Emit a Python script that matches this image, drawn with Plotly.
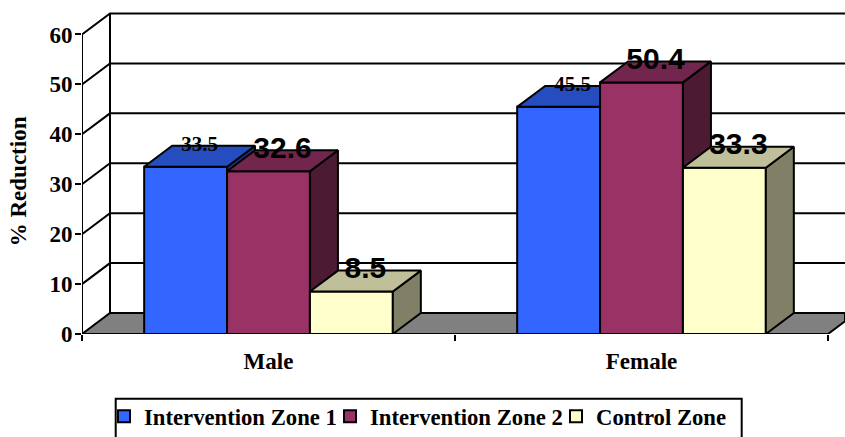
import plotly.graph_objects as go

categories = ["Male", "Female"]
series_names = ["Intervention Zone 1", "Intervention Zone 2", "Control Zone"]
zone1 = [33.5, 45.5]
zone2 = [32.6, 50.4]
control = [8.5, 33.3]
y_ticks = [0, 10, 20, 30, 40, 50, 60]

front_colors = ["#3366FF", "#993366", "#FFFFCC"]
top_colors = ["#264DBF", "#73264D", "#BFBF99"]
side_colors = ["#1A3380", "#4D1A33", "#808066"]

W, H = 845, 437
L, B, T = 82, 102.5, 11
PX_PER_CAT = 373.0
PX_PER_UNIT = 5.0
X_MAX = (W - L) / PX_PER_CAT
Y_MAX = (H - B - T) / PX_PER_UNIT
DX = 28 / PX_PER_CAT
DY = 21 / PX_PER_UNIT
BAR_W = 1 / 4.5
LW = 2
SERIF = "Liberation Serif"
SANS = "Liberation Sans"
PLOT_W, PLOT_H = W - L, H - B - T
ZERO_Y = H - B

fig = go.Figure()


def poly(xs, ys, color, axes=("x", "y")):
    fig.add_trace(go.Scatter(
        x=xs, y=ys, mode="lines", fill="toself", fillcolor=color,
        line=dict(color="black", width=LW), showlegend=False, hoverinfo="skip",
        cliponaxis=False, xaxis=axes[0], yaxis=axes[1]))


def line(xs, ys, axes=("x", "y")):
    fig.add_trace(go.Scatter(
        x=xs, y=ys, mode="lines", line=dict(color="black", width=LW),
        showlegend=False, hoverinfo="skip", cliponaxis=False,
        xaxis=axes[0], yaxis=axes[1]))


# floor, back wall and gridlines on the base axes
n_cat = len(categories)
poly([0, DX, X_MAX, X_MAX, n_cat, 0], [0, DY, DY, (X_MAX - n_cat) / DX * DY, 0, 0], "#808080")
for v in y_ticks[1:]:
    line([0, DX, X_MAX], [v, v + DY, v + DY])
line([DX, DX], [DY, 60 + DY])
line([0, 0], [0, 60])

# bars, one overlay per series so each hides the one before it
all_series = [zone1, zone2, control]
for s, values in enumerate(all_series):
    xa, ya = f"x{s + 2}", f"y{s + 2}"
    centers = [c + 0.5 + (s - 1) * BAR_W for c in range(n_cat)]
    fig.add_trace(go.Bar(
        x=centers, y=values, width=BAR_W, name=series_names[s], xaxis=xa, yaxis=ya,
        marker=dict(color=front_colors[s], line=dict(color="black", width=LW)),
        cliponaxis=False, hoverinfo="skip"))
    for xc, v in zip(centers, values):
        xl, xr = xc - BAR_W / 2, xc + BAR_W / 2
        poly([xr, xr + DX, xr + DX, xr, xr], [0, DY, v + DY, v, 0], side_colors[s], (xa, ya))
        poly([xl, xl + DX, xr + DX, xr, xl], [v, v + DY, v + DY, v, v], top_colors[s], (xa, ya))

# front axis line and data labels on the top layer
line([0, n_cat], [0, 0], ("x4", "y4"))
for s, values in enumerate(all_series):
    centers = [c + 0.5 + (s - 1) * BAR_W + DX / 2 for c in range(n_cat)]
    font = (dict(family=SERIF, size=21, color="black", weight="bold") if s == 0
            else dict(family=SANS, size=30, color="black", weight="bold"))
    fig.add_trace(go.Scatter(
        x=centers, y=[v + DY for v in values], mode="text",
        text=[f"{v:.1f}" for v in values], textposition="middle center",
        textfont=font, showlegend=False, hoverinfo="skip", cliponaxis=False,
        xaxis="x4", yaxis="y4"))

axis_font = dict(family=SERIF, size=23, color="black", weight="bold")
fig.update_layout(
    width=W, height=H, margin=dict(l=L, r=0, t=T, b=B, pad=0, autoexpand=False),
    paper_bgcolor="white", plot_bgcolor="white", barmode="overlay", autosize=False,
    xaxis=dict(
        range=[0, X_MAX], showgrid=False, zeroline=False, showline=False,
        tickmode="array", tickvals=[c + 0.5 for c in range(n_cat)], ticktext=categories,
        ticks="", tickfont=axis_font, ticklabelstandoff=11,
        minor=dict(tickmode="array", tickvals=list(range(n_cat + 1)), ticks="outside",
                   ticklen=6, tickwidth=LW, tickcolor="black", showgrid=False)),
    yaxis=dict(
        range=[0, Y_MAX], showgrid=False, zeroline=False, showline=False,
        tickmode="array", tickvals=y_ticks, ticks="outside", ticklen=6, tickwidth=LW,
        tickcolor="black", tickfont=axis_font, ticklabelstandoff=-2),
    legend=dict(
        orientation="h", x=(104 - L) / PLOT_W, y=(ZERO_Y - 395.5) / PLOT_H,
        xanchor="left", yanchor="top",
        font=dict(family=SERIF, size=22.7, color="black", weight="bold"),
        bgcolor="rgba(0,0,0,0)", borderwidth=0, traceorder="normal",
        entrywidth=181, entrywidthmode="pixels"),
    annotations=[dict(text="% Reduction", xref="paper", yref="paper",
                      x=(18.5 - L) / PLOT_W, y=(ZERO_Y - 182) / PLOT_H,
                      xanchor="center", yanchor="middle", textangle=-90, showarrow=False,
                      font=dict(family=SERIF, size=23, color="black", weight="bold"))],
    shapes=[dict(type="rect", xref="paper", yref="paper", layer="above",
                 x0=(115.7 - L) / PLOT_W, x1=(741.7 - L) / PLOT_W,
                 y0=(ZERO_Y - 445) / PLOT_H, y1=(ZERO_Y - 399.3) / PLOT_H,
                 line=dict(color="black", width=LW), fillcolor="rgba(0,0,0,0)")],
)
for k in (2, 3, 4):
    fig.update_layout({
        f"xaxis{k}": dict(overlaying="x", matches="x", visible=False, range=[0, X_MAX]),
        f"yaxis{k}": dict(overlaying="y", matches="y", visible=False, range=[0, Y_MAX]),
    })

fig.write_html("out.html", config=dict(displayModeBar=False),
               post_script="document.body.style.margin='0';document.body.style.overflow='hidden';")
